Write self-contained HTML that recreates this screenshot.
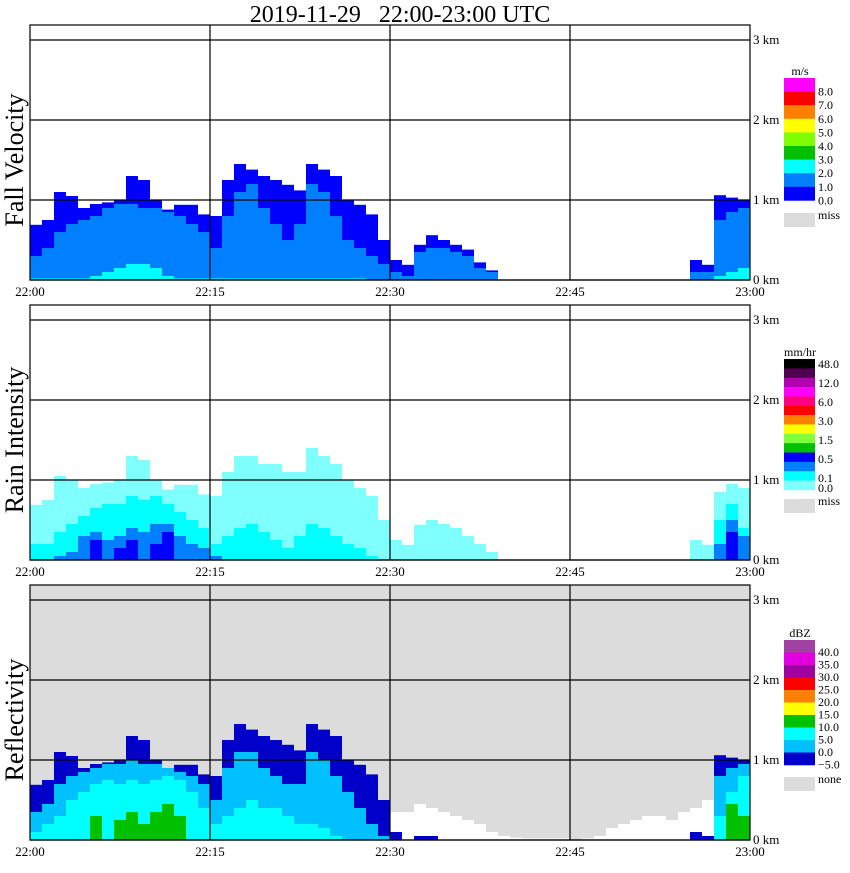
<!DOCTYPE html>
<html><head><meta charset="utf-8"><style>
body{margin:0;background:#fff;width:850px;height:868px;overflow:hidden}
svg text{font-family:"Liberation Serif",serif;fill:#000}
</style></head><body>
<svg id="chart" width="850" height="868" xmlns="http://www.w3.org/2000/svg">
<text x="400" y="22" font-size="24" text-anchor="middle" style="white-space:pre">2019-11-29   22:00-23:00 UTC</text>
<g id="panels"></g>
</svg>
<script>
// ---- data (km heights per 1-minute bin, 22:00..22:59) ----
const minutes = Array.from({length:60},(_, i)=>i);
const timeLabels = ["22:00","22:15","22:30","22:45","23:00"];
const heightLabels = ["0 km","1 km","2 km","3 km"];
// Fall velocity panel
const velTop  = [.69,.75,1.1,1.05,.9,.95,.97,1.0,1.3,1.25,1.0,.88,.94,.94,.82,.8,1.25,1.45,1.38,1.3,1.25,1.19,1.12,1.45,1.38,1.3,1.0,.94,.82,.5,.25,.19,.44,.56,.5,.44,.38,.22,.12,0,0,0,0,0,0,0,0,0,0,0,0,0,0,0,0,.25,.19,1.06,1.03,1.0];
const velMid  = [.3,.4,.6,.7,.75,.8,.9,.95,.95,.9,.9,.85,.8,.7,.6,.4,.8,1.1,1.2,.9,.7,.5,.7,1.2,1.1,.8,.5,.4,.3,.2,.1,.05,.35,.4,.4,.35,.3,.15,.1,0,0,0,0,0,0,0,0,0,0,0,0,0,0,0,0,.1,.1,.75,.85,.9];
const velCore = [.02,.02,.02,.02,.02,.05,.1,.15,.2,.2,.15,.05,.02,.02,.02,.02,.02,.02,.02,.02,.02,.02,.02,.02,.02,.02,.02,.02,0,0,0,0,0,0,0,0,0,0,0,0,0,0,0,0,0,0,0,0,0,0,0,0,0,0,0,0,0,.05,.1,.15];
// Rain intensity panel
const rainTop  = [.69,.75,1.05,1.0,.9,.95,.97,1.0,1.3,1.25,1.0,.88,.94,.94,.82,.8,1.1,1.3,1.3,1.2,1.2,1.1,1.1,1.4,1.3,1.2,1.0,.9,.8,.5,.25,.19,.44,.5,.45,.4,.3,.2,.1,0,0,0,0,0,0,0,0,0,0,0,0,0,0,0,0,.25,.19,.85,.95,.9];
const rainMid  = [.2,.2,.35,.45,.55,.65,.7,.7,.8,.75,.8,.7,.6,.5,.4,.2,.3,.4,.45,.35,.25,.15,.3,.45,.4,.3,.2,.15,.05,0,0,0,0,0,0,0,0,0,0,0,0,0,0,0,0,0,0,0,0,0,0,0,0,0,0,0,0,.5,.7,.4];
const rainBlue = [0,0,.05,.1,.3,.35,.25,.3,.4,.35,.45,.45,.3,.2,.15,.05,0,0,0,0,0,0,0,0,0,0,0,0,0,0,0,0,0,0,0,0,0,0,0,0,0,0,0,0,0,0,0,0,0,0,0,0,0,0,0,0,0,.2,.5,.3];
const rainDark = [0,0,0,0,0,.25,0,.15,.25,0,.2,.35,0,0,0,0,0,0,0,0,0,0,0,0,0,0,0,0,0,0,0,0,0,0,0,0,0,0,0,0,0,0,0,0,0,0,0,0,0,0,0,0,0,0,0,0,0,0,.35,0];
// Reflectivity panel
const dbzWhite = [0,0,0,0,0,0,0,0,0,0,0,0,0,0,0,0,0,0,0,0,0,0,0,0,0,0,0,0,.55,.5,.35,.35,.45,.4,.35,.3,.25,.2,.1,.05,.03,.02,.02,.02,.02,0,.02,.05,.15,.2,.25,.3,.3,.25,.35,.4,.5,.3,0,0];
const dbzTop   = [.69,.75,1.1,1.05,.9,.95,.97,1.0,1.3,1.25,1.0,.88,.94,.94,.82,.8,1.25,1.45,1.38,1.3,1.25,1.19,1.12,1.45,1.38,1.3,1.0,.94,.82,.5,.1,0,.05,.05,0,0,0,0,0,0,0,0,0,0,0,0,0,0,0,0,0,0,0,0,0,.1,.05,1.06,1.03,1.0];
const dbzLight = [.35,.45,.7,.8,.85,.9,.95,.95,1.0,.95,.95,.9,.85,.8,.7,.5,.9,1.1,1.1,.9,.8,.7,.7,1.1,1.0,.8,.6,.4,.2,.05,0,0,0,0,0,0,0,0,0,0,0,0,0,0,0,0,0,0,0,0,0,0,0,0,0,0,0,.8,.9,.95];
const dbzCyan  = [.1,.2,.3,.5,.6,.7,.75,.7,.75,.7,.75,.8,.75,.6,.4,.2,.3,.4,.5,.4,.4,.3,.2,.2,.15,.05,0,0,0,0,0,0,0,0,0,0,0,0,0,0,0,0,0,0,0,0,0,0,0,0,0,0,0,0,0,0,0,.3,.6,.8];
const dbzGreen = [0,0,0,0,0,.3,0,.25,.35,.2,.35,.45,.3,0,0,0,0,0,0,0,0,0,0,0,0,0,0,0,0,0,0,0,0,0,0,0,0,0,0,0,0,0,0,0,0,0,0,0,0,0,0,0,0,0,0,0,0,0,.45,.3];
// legends
const velLegendColors = ["#ff00ff","#ff0000","#ff8000","#ffff00","#80ff00","#00c000","#00ffff","#0080ff","#0000ff"];
const velLegendLabels = ["8.0","7.0","6.0","5.0","4.0","3.0","2.0","1.0","0.0"];
const rainLegendColors = ["#000000","#500050","#b000b0","#ff00ff","#ff0080","#ff0000","#ff8000","#ffff00","#80ff40","#00c000","#0000ff","#0080ff","#00ffff","#80ffff"];
const rainLegendLabels = ["48.0","12.0","6.0","3.0","1.5","0.5","0.1","0.0"];
const dbzLegendColors = ["#a040a0","#e000e0","#a000a0","#ff0000","#ff8000","#ffff00","#00c000","#00ffff","#00c0ff","#0000c8"];
const dbzLegendLabels = ["40.0","35.0","30.0","25.0","20.0","15.0","10.0","5.0","0.0","\u22125.0"];

const NS="http://www.w3.org/2000/svg";
const root=document.getElementById('panels');
const X0=30,X1=750,PXMIN=12,KM=80;
function xScale(m){return X0+m*PXMIN;}
function yScale(top,km){return top+255-km*KM;}
function mk(tag,attrs,parent){const e=document.createElementNS(NS,tag);for(const k in attrs)e.setAttribute(k,attrs[k]);(parent||root).appendChild(e);return e;}

function layer(top,arr,color,name,g){
  arr.forEach((v,i)=>{ if(v<=0) return;
    const y=yScale(top,v);
    const r=mk('rect',{x:xScale(minutes[i]),y:y,width:PXMIN,height:yScale(top,0)-y,fill:color},g);
    
    
  });
}

function panel(top,title,bg,layers,legend){
  const g=mk('g',{});
  
  
  const bgR=mk('rect',{x:X0,y:top,width:X1-X0,height:255,fill:bg},g);
  
  
  layers.forEach(l=>layer(top,l[0],l[1],l[2],g));
  for(let k=0;k<=3;k++){const y=yScale(top,k);
    const ln=mk('line',{x1:X0,x2:X1,y1:y,y2:y,stroke:'#000','stroke-width':1.2},g);
    
    
    const t=mk('text',{x:753,y:y+4,'font-size':13},g); t.textContent=heightLabels[k];
    
    
  }
  for(let j=0;j<timeLabels.length;j++){const x=xScale(j*15);
    if(j>0&&j<4){const ln=mk('line',{x1:x,x2:x,y1:top,y2:top+255,stroke:'#000','stroke-width':1.2},g);
      
      }
    const t=mk('text',{x:x,y:top+271,'font-size':13,'text-anchor':'middle'},g); t.textContent=timeLabels[j];
    
    
  }
  const fr=mk('rect',{x:X0,y:top,width:X1-X0,height:255,fill:'none',stroke:'#000','stroke-width':1.2},g);
  
  
  const tt=mk('text',{x:0,y:0,'font-size':26,'text-anchor':'middle',transform:`translate(23,${top+135}) rotate(-90)`},g);
  tt.textContent=title;
  
  
  const lg=mk('g',{},g);
  
  
  const u=mk('text',{x:800,y:legend.y0-3,'font-size':12,'text-anchor':'middle'},lg); u.textContent=legend.unit;
  
  
  legend.colors.forEach((c,i)=>{const r=mk('rect',{x:784,y:legend.y0+i*legend.h,width:31,height:legend.h+0.3,fill:c},lg);
    
    });
  legend.labels.forEach((s,i)=>{const t=mk('text',{x:818,y:legend.ly[i]+4,'font-size':12},lg);t.textContent=s;
    
    });
  const m=mk('rect',{x:784,y:legend.missY,width:31,height:14,fill:'#dcdcdc'},lg);
  
  
  const mt=mk('text',{x:818,y:legend.missY+6,'font-size':12},lg);mt.textContent=legend.miss;
  
  
}

panel(25,'Fall Velocity','#ffffff',[[velTop,'#0000ff','vel-dark'],[velMid,'#0080ff','vel-mid'],[velCore,'#00ffff','vel-core']],
  {unit:'m/s',y0:78,h:13.6,colors:velLegendColors,labels:velLegendLabels,ly:velLegendLabels.map((_,i)=>78+13.6*(i+1)),missY:213,miss:'miss'});
panel(305,'Rain Intensity','#ffffff',[[rainTop,'#80ffff','rain-light'],[rainMid,'#00ffff','rain-cyan'],[rainBlue,'#0080ff','rain-blue'],[rainDark,'#0000ff','rain-dark']],
  {unit:'mm/hr',y0:359,h:9.35,colors:rainLegendColors,labels:rainLegendLabels,ly:[364,383,402,421,440,459,478,488],missY:499,miss:'miss'});
panel(585,'Reflectivity','#dcdcdc',[[dbzWhite,'#ffffff','dbz-weak'],[dbzTop,'#0000c8','dbz-dark'],[dbzLight,'#00c0ff','dbz-light'],[dbzCyan,'#00ffff','dbz-cyan'],[dbzGreen,'#00c000','dbz-green']],
  {unit:'dBZ',y0:640,h:12.5,colors:dbzLegendColors,labels:dbzLegendLabels,ly:dbzLegendLabels.map((_,i)=>652+12.5*i),missY:777,miss:'none'});
</script>
</body></html>
